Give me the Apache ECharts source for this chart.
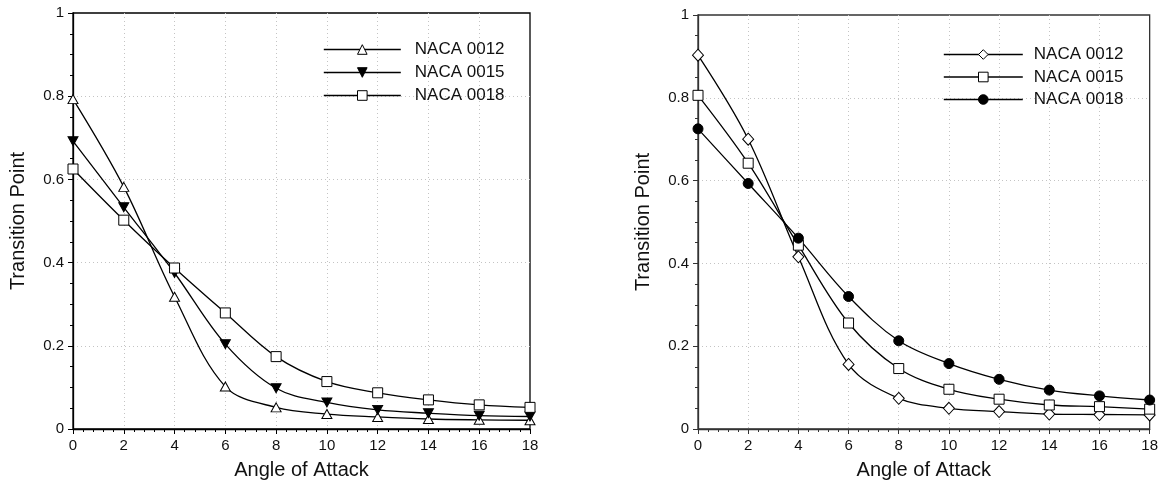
<!DOCTYPE html>
<html>
<head>
<meta charset="utf-8">
<script src="https://cdn.jsdelivr.net/npm/echarts@6/dist/echarts.min.js"></script>
<style>
html,body{margin:0;padding:0;background:#fff;}
#chart{width:1161px;height:485px;}
</style>
</head>
<body>
<div id="chart"></div>
<script>
// ---- data ----
var angles = [0, 2, 4, 6, 8, 10, 12, 14, 16, 18];
var xTicks = [0, 2, 4, 6, 8, 10, 12, 14, 16, 18];
var yTicks = [0, 0.2, 0.4, 0.6, 0.8, 1];
var seriesNames = ['NACA 0012', 'NACA 0015', 'NACA 0018'];

// left panel
var leftNaca0012 = [0.793, 0.582, 0.318, 0.102, 0.052, 0.036, 0.029, 0.024, 0.022, 0.021];
var leftNaca0015 = [0.692, 0.533, 0.375, 0.204, 0.098, 0.064, 0.046, 0.038, 0.032, 0.030];
var leftNaca0018 = [0.625, 0.502, 0.387, 0.279, 0.174, 0.114, 0.087, 0.070, 0.058, 0.052];

// right panel
var rightNaca0012 = [0.903, 0.700, 0.416, 0.156, 0.074, 0.050, 0.042, 0.036, 0.035, 0.034];
var rightNaca0015 = [0.806, 0.642, 0.444, 0.256, 0.146, 0.096, 0.072, 0.058, 0.054, 0.048];
var rightNaca0018 = [0.725, 0.593, 0.461, 0.320, 0.213, 0.158, 0.120, 0.094, 0.080, 0.070];

var xTitle = 'Angle of Attack';
var yTitle = 'Transition Point';

// ---- build ----
function pairs(vals) { return angles.map(function (a, i) { return [a, vals[i]]; }); }
var FONT = '"Liberation Sans", Arial, Helvetica, sans-serif';

function xAxisFor(gi, color) {
  return {
    type: 'value', gridIndex: gi, min: 0, max: 18, interval: 2,
    axisLine: { show: true, onZero: false, lineStyle: { color: color, width: 1.3 } },
    axisTick: { show: true, inside: false, length: 5, lineStyle: { color: color, width: 1 } },
    minorTick: { show: true, splitNumber: 5, length: 3, lineStyle: { color: color, width: 1 } },
    axisLabel: { color: '#111', fontSize: 15, fontFamily: FONT, margin: 9,
      formatter: function (v) { return xTicks.indexOf(v) >= 0 ? String(v) : ''; } },
    splitLine: { show: true, showMinLine: false, showMaxLine: false,
      lineStyle: { color: '#c4c4c4', type: [1, 3], width: 1 } },
    name: xTitle, nameLocation: 'middle', nameGap: 31,
    nameTextStyle: { color: '#111', fontSize: 20, fontFamily: FONT }
  };
}
function yAxisFor(gi, color) {
  return {
    type: 'value', gridIndex: gi, min: 0, max: 1, interval: 0.2,
    axisLine: { show: true, onZero: false, lineStyle: { color: color, width: 1.3 } },
    axisTick: { show: true, inside: false, length: 5, lineStyle: { color: color, width: 1 } },
    minorTick: { show: true, splitNumber: 4, length: 3, lineStyle: { color: color, width: 1 } },
    axisLabel: { color: '#111', fontSize: 15, fontFamily: FONT, margin: 9,
      formatter: function (v) {
        for (var i = 0; i < yTicks.length; i++) if (Math.abs(yTicks[i] - v) < 1e-9) return String(yTicks[i]);
        return '';
      } },
    splitLine: { show: true, showMinLine: false, showMaxLine: false,
      lineStyle: { color: '#c4c4c4', type: [1, 3], width: 1 } },
    name: yTitle, nameLocation: 'middle', nameGap: 45,
    nameTextStyle: { color: '#111', fontSize: 20, fontFamily: FONT }
  };
}
function lineSeries(name, vals, gi, symbol, size, fill, rotate) {
  return {
    type: 'line', name: name, data: pairs(vals),
    xAxisIndex: gi, yAxisIndex: gi,
    smooth: 0.35, symbol: symbol, symbolSize: size, symbolRotate: rotate || 0,
    showAllSymbol: true,
    lineStyle: { color: '#000', width: 1.3 },
    itemStyle: { color: fill, borderColor: '#000', borderWidth: 1 },
    emphasis: { disabled: true },
    animation: false
  };
}

var chart = echarts.init(document.getElementById('chart'), null, { renderer: 'canvas' });
chart.setOption({
  backgroundColor: '#fff',
  animation: false,
  grid: [
    { left: 73, top: 13, width: 457, height: 416, show: true, borderColor: '#000', borderWidth: 1.3, backgroundColor: 'transparent' },
    { left: 698, top: 15, width: 454, height: 417, show: true, borderColor: '#333', borderWidth: 1.3, backgroundColor: 'transparent' }
  ],
  xAxis: [xAxisFor(0, '#000'), xAxisFor(1, '#333')],
  yAxis: [yAxisFor(0, '#000'), yAxisFor(1, '#333')],
  legend: [
    {
      orient: 'vertical', left: 323, top: 41, padding: 0, itemGap: 6,
      itemWidth: 77, itemHeight: 12,
      data: [seriesNames[0] + ' ', seriesNames[1] + ' ', seriesNames[2] + ' '],
      itemStyle: { borderWidth: 1 },
      lineStyle: { width: 1.6, color: '#000' },
      textStyle: { color: '#111', fontSize: 17, fontFamily: FONT, lineHeight: 17, padding: [0, 0, 0, 9] },
      selectedMode: false
    },
    {
      orient: 'vertical', left: 943, top: 46, padding: 0, itemGap: 5.5,
      itemWidth: 79, itemHeight: 12,
      data: seriesNames.slice(),
      itemStyle: { borderWidth: 1 },
      lineStyle: { width: 1.6, color: '#000' },
      textStyle: { color: '#111', fontSize: 17, fontFamily: FONT, lineHeight: 17, padding: [0, 0, 0, 6] },
      selectedMode: false
    }
  ],
  series: [
    lineSeries(seriesNames[0] + ' ', leftNaca0012, 0, 'triangle', [10, 9], '#fff'),
    lineSeries(seriesNames[1] + ' ', leftNaca0015, 0, 'triangle', [10, 9], '#000', 180),
    lineSeries(seriesNames[2] + ' ', leftNaca0018, 0, 'rect', 10, '#fff'),
    lineSeries(seriesNames[0], rightNaca0012, 1, 'diamond', [11, 12], '#fff'),
    lineSeries(seriesNames[1], rightNaca0015, 1, 'rect', 10, '#fff'),
    lineSeries(seriesNames[2], rightNaca0018, 1, 'circle', 10, '#000')
  ]
});
</script>
</body>
</html>
